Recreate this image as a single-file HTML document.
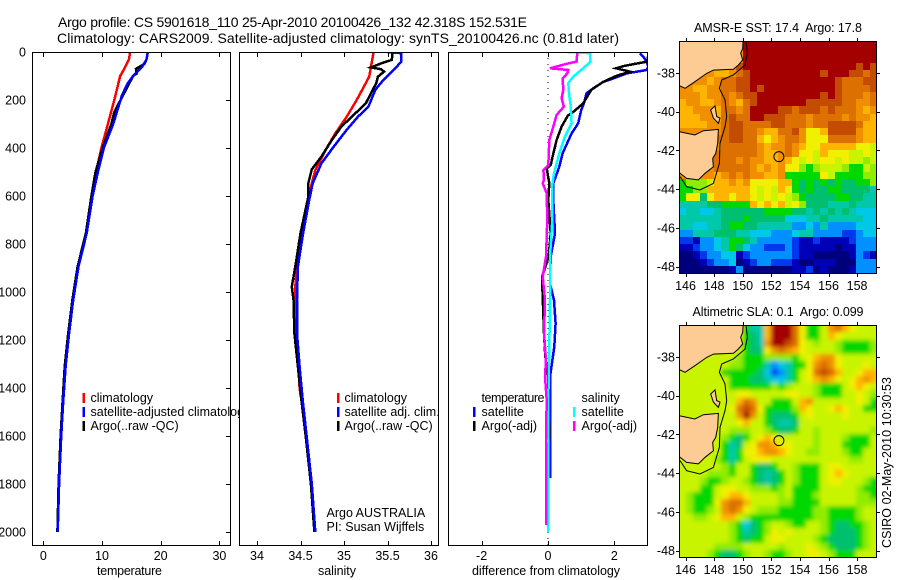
<!DOCTYPE html>
<html lang="en">
<head>
<meta charset="utf-8">
<title>Argo profile chart</title>
<style>
html,body{margin:0;padding:0;background:#fff;}
svg{display:block;}
text{font-family:"Liberation Sans",sans-serif;font-size:12.5px;fill:#000;}
</style>
</head>
<body>
<svg id="chart" xmlns="http://www.w3.org/2000/svg" width="900" height="580" viewBox="0 0 900 580"></svg>
<script>
/* ---------- profile data ---------- */
const depthTicks = [0,200,400,600,800,1000,1200,1400,1600,1800,2000];
const tempTicks = [0,10,20,30];
const salTicks = [34,34.5,35,35.5,36];
const salTickLabels = ['34','34.5','35','35.5','36'];
const diffTicks = [-2,0,2];

const tempClimDepth = [0,30,70,100,200,300,400,500,600,755,894,1033,1172,1311,1450,1600,1800,2000];
const tempClimValue = [14.8,14.6,13.8,13.1,12.1,11.0,9.9,9.0,8.4,7.4,6.0,5.1,4.4,3.8,3.4,3.05,2.7,2.45];
const tempSatDepth = [0,30,60,100,130,180,300,400,500,600,755,894,1033,1172,1311,1450,1600,1800,2000];
const tempSatValue = [17.8,17.6,16.9,15.3,14.4,13.4,11.9,10.3,9.3,8.4,7.4,6.0,5.1,4.4,3.8,3.4,3.05,2.7,2.45];
const tempArgoDepth = [0,30,50,70,90,100,250,300,400,500,600,755,894,1033,1172,1311,1450,1600,1800,2000];
const tempArgoValue = [17.8,17.6,17.2,15.8,15.9,15.3,12.1,11.6,10.1,8.9,8.2,7.25,5.85,4.95,4.25,3.65,3.3,2.95,2.6,2.4];

const salClimDepth = [0,103,200,270,339,408,492,547,617,755,894,978,1100,1400,1600,1800,2000];
const salClimValue = [35.34,35.29,35.146,35.03,34.90,34.79,34.67,34.63,34.59,34.51,34.46,34.44,34.44,34.49,34.57,34.63,34.67];
const salSatDepth = [0,5,40,75,117,158,228,270,325,395,464,547,617,755,894,1033,1172,1311,1450,1600,1800,2000];
const salSatValue = [35.5,35.66,35.66,35.57,35.45,35.36,35.28,35.16,35.03,34.88,34.74,34.64,34.60,34.53,34.47,34.46,34.46,34.49,34.525,34.57,34.63,34.67];
const salArgoDepth = [0,33,47,64,72,82,103,131,158,214,256,311,367,436,489,547,603,755,894,978,1033,1172,1311,1450,1600,1800,2000];
const salArgoValue = [35.56,35.55,35.43,35.31,35.43,35.46,35.39,35.37,35.33,35.25,35.13,34.97,34.86,34.74,34.63,34.59,34.59,34.50,34.44,34.40,34.42,34.43,34.47,34.51,34.56,34.62,34.66];

const diffTempSatDepth = [6,19,40,61,75,89,110,124,151,172,214,242,297,339,422,478,547,617,756,853,964,1034,1131,1228,1353,1775];
const diffTempSatValue = [2.77,2.87,2.97,3.02,2.97,2.37,1.97,1.67,1.37,1.16,1.08,1.0,0.91,0.71,0.44,0.34,0.16,0.16,0.21,0.08,0.06,0.18,0.23,0.19,0.06,0.06];
const diffTempArgoDepth = [5,40,50,58,68,82,100,124,158,214,250,265,311,367,436,471,485,547,617,756,853,936,1020,1172,1270,1353,1617];
const diffTempArgoValue = [3.02,3.0,2.6,2.3,2.05,2.47,2.05,1.67,1.3,1.06,0.76,0.6,0.41,0.26,0.14,0.08,-0.04,0.04,0.01,0.08,0.02,-0.18,-0.16,-0.12,-0.08,0.01,0.04];
const diffSalSatDepth = [0,5,40,68,103,130,179,221,297,353,422,506,561,700,853,1034,1228,1450,2003];
const diffSalSatValue = [0.59,1.27,1.28,1.06,0.76,0.61,0.64,0.68,0.71,0.51,0.34,0.18,0.12,0.13,0.06,0.06,0.04,0.01,0.01];
const diffSalArgoDepth = [5,40,50,68,75,89,110,158,193,228,262,311,367,471,492,533,547,589,700,853,936,1034,1172,1284,1353,1450,1617,1970];
const diffSalArgoValue = [0.88,0.86,0.54,0.06,0.61,0.58,0.44,0.46,0.41,0.48,0.26,0.16,0.04,0.01,-0.14,-0.12,-0.16,-0.04,-0.02,-0.06,-0.16,-0.09,-0.12,-0.06,-0.09,-0.04,-0.06,-0.05];
const zeroLineDepth = [0,2054];
const zeroLineValue = [0,0];

/* ---------- map data: colour-scale level per cell, 0 = coldest/lowest, 15 = warmest/highest ---------- */
const lonTicks = [146,148,150,152,154,156,158];
const latTicks = [-38,-40,-42,-44,-46,-48];
const sstLevels = [
[12,12,12,12,12,12,12,12,12,15,15,15,15,15,15,15,15,15,15,15,15,15,15,15,15,15,15,15],
[12,12,12,12,12,12,12,12,12,15,15,15,15,15,15,15,15,15,15,15,15,15,15,15,15,15,15,15],
[12,12,12,12,12,12,12,12,12,15,15,15,15,15,15,15,15,15,15,15,15,15,15,15,15,15,15,15],
[12,12,12,12,12,12,12,12,14,15,15,15,15,15,15,15,15,15,15,15,15,15,15,15,15,14,15,14],
[12,12,12,12,12,11,11,12,13,14,15,15,15,15,15,15,15,15,15,15,14,15,15,15,14,14,13,14],
[12,12,12,12,11,12,13,13,14,14,15,15,15,15,15,15,15,15,15,15,15,15,14,13,13,13,14,14],
[12,12,11,11,12,12,13,13,14,14,15,14,15,15,15,15,15,15,15,15,15,15,14,13,13,13,13,14],
[12,12,12,11,12,12,13,12,13,14,14,15,15,15,15,15,15,15,15,15,14,15,14,13,13,13,12,13],
[11,12,12,11,11,12,13,12,11,13,14,15,15,15,15,15,15,15,14,14,14,14,14,13,13,12,12,13],
[11,11,12,12,12,11,13,13,12,13,15,15,15,15,14,14,13,14,14,14,13,14,13,13,13,12,11,12],
[11,11,11,12,12,11,13,14,13,13,15,15,14,14,14,13,13,13,12,13,13,13,13,12,13,12,12,11],
[11,11,11,11,12,12,13,14,14,13,13,13,13,14,14,13,13,13,12,13,13,14,14,14,14,13,11,11],
[12,12,12,12,12,12,13,14,14,13,13,12,11,11,13,13,14,12,10,10,11,14,14,14,14,12,11,11],
[12,12,12,12,12,13,13,14,14,13,13,11,10,11,12,13,13,12,10,10,10,13,13,13,13,12,11,11],
[12,12,12,12,12,12,13,13,13,13,13,12,11,12,12,13,12,11,10,10,11,11,11,11,11,10,10,9],
[12,12,12,12,12,13,13,13,13,13,13,12,11,11,12,13,12,10,10,9,11,10,10,10,9,9,10,9],
[12,12,12,12,13,13,13,13,12,13,12,12,11,11,12,11,10,9,10,9,10,10,9,10,9,9,8,9],
[12,12,12,12,12,13,13,13,13,13,12,11,12,11,12,10,10,8,7,8,9,9,9,8,7,7,9,8],
[12,12,12,12,12,11,12,13,12,13,12,12,11,11,12,7,7,7,7,7,10,9,7,7,7,7,8,8],
[7,8,8,8,9,11,11,12,11,12,10,10,10,10,11,11,7,6,7,6,7,6,7,6,6,7,7,8],
[7,7,8,8,11,11,11,11,11,11,10,9,10,9,11,10,7,6,7,6,6,7,7,6,6,6,6,5],
[7,10,10,6,10,11,11,10,11,11,10,9,10,9,10,9,8,7,6,6,6,6,7,7,6,6,5,5],
[5,5,5,5,6,6,7,7,7,7,11,10,11,10,11,9,10,8,6,6,6,5,5,5,6,5,5,5],
[4,5,5,4,4,5,6,6,6,6,6,6,7,7,7,7,6,6,5,6,5,6,5,6,5,4,4,4],
[5,5,5,5,5,5,6,6,6,7,6,6,6,6,6,4,4,4,5,5,6,5,5,5,5,5,4,4],
[5,5,4,4,5,5,6,7,7,6,6,5,5,5,5,5,3,3,4,3,5,3,3,3,3,4,4,4],
[3,3,5,5,5,6,6,6,5,5,4,4,4,3,3,3,4,5,5,3,3,3,3,2,2,3,4,4],
[2,2,1,3,3,4,5,7,7,6,5,3,3,3,3,3,2,1,1,2,1,1,1,1,2,3,3,3],
[1,1,2,3,3,4,5,7,6,4,3,3,2,2,2,3,2,1,1,1,1,1,0,1,1,3,3,3],
[0,0,1,2,3,3,4,4,1,2,3,3,3,3,3,3,2,1,1,0,0,0,0,0,1,3,2,1],
[0,0,0,1,2,3,3,4,0,1,2,3,3,2,2,2,1,0,0,1,1,1,0,0,0,3,3,3],
[0,0,0,0,0,0,0,1,3,0,0,0,0,0,0,0,1,1,2,0,1,0,0,0,1,3,3,3]
];
const slaLevels = [
[9,9,9,9,9,9,9,9,9,7,5,5,11,15,15,15,13,10,7,7,9,12,13,11,10,9,9,9],
[9,9,9,9,9,9,9,9,9,7,6,5,11,15,15,15,13,10,7,7,9,11,10,9,9,9,9,9],
[9,9,9,9,9,9,9,9,9,7,6,5,12,15,15,14,13,10,9,8,9,9,8,7,7,7,7,8],
[9,9,9,9,9,9,9,9,9,7,6,6,10,12,13,12,11,10,9,9,9,9,8,7,7,7,7,8],
[9,9,9,9,9,9,9,9,8,7,7,7,8,8,8,8,7,9,10,11,12,12,10,9,9,9,9,9],
[9,9,9,9,9,9,9,8,8,7,7,7,5,3,4,5,7,7,10,12,13,12,10,9,9,9,10,9],
[9,9,9,9,9,9,7,7,7,7,7,6,4,2,3,5,7,9,10,13,14,13,11,9,9,10,11,11],
[9,9,9,9,9,9,9,7,7,7,6,6,5,4,4,5,7,9,10,11,12,11,10,9,10,11,12,11],
[9,9,9,9,9,9,9,7,7,7,7,7,7,8,7,8,9,9,9,8,7,7,7,9,10,11,10,9],
[9,9,9,9,9,9,9,9,10,10,9,9,9,9,9,10,10,9,9,8,7,7,7,9,9,10,9,8],
[9,9,9,9,9,9,9,9,11,13,12,9,9,7,7,7,9,11,12,9,9,9,9,9,9,10,9,7],
[9,9,9,9,9,9,9,10,13,14,13,10,7,7,7,7,8,11,10,9,9,10,11,10,9,9,7,7],
[9,9,9,9,9,9,9,9,12,15,12,9,7,6,6,6,7,9,10,9,9,9,9,10,9,9,9,9],
[9,9,9,9,9,9,9,9,10,11,9,9,7,6,5,5,6,9,9,9,9,9,9,9,9,9,9,9],
[9,9,9,9,9,9,9,8,8,8,9,9,8,7,6,6,7,9,9,8,9,9,9,9,9,9,9,8],
[9,9,9,9,9,9,8,7,6,7,9,10,11,10,9,9,9,9,9,8,9,9,9,8,7,7,7,9],
[9,9,9,9,9,9,7,5,6,9,10,12,12,11,10,10,9,9,9,8,9,9,9,7,7,7,7,9],
[9,9,9,9,9,9,7,5,7,10,10,11,12,12,11,10,9,9,8,8,9,9,9,8,7,7,9,9],
[9,9,9,9,9,8,7,5,7,9,10,10,10,9,9,9,9,9,9,9,9,9,9,9,8,8,9,9],
[9,9,9,9,9,9,8,7,9,9,7,6,6,7,9,9,8,7,7,7,9,10,10,9,9,9,9,9],
[9,9,9,9,8,8,8,7,9,9,7,6,5,6,7,9,8,7,7,7,9,10,11,10,9,9,9,9],
[9,9,9,8,7,7,8,9,9,8,7,6,5,6,7,9,8,7,7,7,9,10,10,9,9,9,8,7],
[9,9,9,7,7,9,10,10,9,9,8,8,8,7,8,9,7,7,7,7,9,9,9,9,9,8,7,7],
[9,8,7,7,7,9,10,11,11,10,9,9,9,9,8,9,7,7,7,8,9,9,9,9,9,8,8,7],
[9,8,7,7,7,10,12,13,13,11,9,9,9,9,8,8,7,7,7,7,9,9,9,9,9,8,8,8],
[9,8,7,7,8,9,12,13,12,10,9,8,8,8,7,7,7,7,7,8,8,7,7,7,7,8,9,9],
[9,9,8,8,9,10,11,11,9,8,7,7,7,7,7,7,7,7,7,8,8,7,7,7,7,8,9,9],
[9,9,9,9,9,9,9,8,7,4,6,7,8,9,9,8,7,7,9,9,8,7,6,6,7,7,8,9],
[9,9,9,9,9,9,9,8,7,5,6,7,8,10,9,10,9,9,9,9,8,7,6,6,6,7,8,9],
[9,9,9,9,9,9,9,8,7,6,7,7,9,10,10,9,9,9,9,8,7,6,6,6,6,7,8,9],
[9,9,9,9,9,8,8,8,8,9,9,9,9,9,8,9,9,9,10,9,8,7,6,6,6,7,8,9],
[9,9,9,9,8,7,6,6,7,8,9,9,8,7,7,8,9,9,10,10,9,8,7,7,7,9,9,9]
];
const scaleColors = ['#00007c','#0000b8','#0038f0','#0090ff','#00c8e8','#00c8a8','#00c070','#00d800','#90ec00','#c8f400','#f0f000','#ffb400','#f09000','#dc7000','#c44c00','#a40000'];
const landNorthLon = [150.04,150.0,149.86,150.0,149.69,149.35,147.95,147.48,146.66,145.97,145.62,145.15,145.15];
const landNorthLat = [-36.12,-36.73,-36.98,-37.33,-37.59,-37.81,-37.85,-38.02,-38.45,-38.79,-38.67,-38.67,-36.12];
const landTasLon = [145.15,145.57,146.66,147.25,148.3,148.25,148.11,147.9,147.95,147.37,146.9,146.08,145.62,145.15];
const landTasLat = [-41.03,-41.03,-41.2,-40.98,-40.91,-41.63,-42.15,-42.41,-42.84,-43.18,-43.52,-43.44,-43.18,-43.0];
const islandLon = [147.76,148.06,148.18,148.41,148.3,147.95];
const islandLat = [-39.91,-39.70,-40.25,-40.33,-40.6,-40.33];
const contourLon = [150.23,150.33,150.16,149.35,148.53,148.37,148.76,148.88,148.76,148.41,148.37,147.95,147.01,146.08,145.62];
const contourLat = [-36.35,-36.98,-37.59,-38.1,-38.36,-38.79,-39.39,-40.25,-40.77,-41.63,-42.66,-43.7,-44.04,-43.87,-43.35];
const floatLon = [152.531];
const floatLat = [-42.318];

/* ---------- helpers ---------- */
const svg = document.getElementById('chart');
const NS = 'http://www.w3.org/2000/svg';
function make(tag, attrs, parent, txt){
  const e = document.createElementNS(NS, tag);
  for (const k in attrs) e.setAttribute(k, attrs[k]);
  if (txt !== undefined) e.textContent = txt;
  (parent || svg).appendChild(e);
  return e;
}
function label(parent, x, y, s, anchor, name, extra){
  const t = make('text', Object.assign({x:x, y:y, 'text-anchor':anchor||'start'}, extra||{}), parent, s);
  
  
  return t;
}
const depthY = d => 52 + 0.24 * d;
const tempX = v => 43.3 + 5.87 * v;
const salX = v => 257 + 87 * (v - 34);
const diffX = v => 548 + 33.2 * v;
function linePath(xs, ys, fx, fy){
  return xs.map((v, i) => (i ? 'L' : 'M') + fx(v).toFixed(1) + ' ' + fy(ys[i]).toFixed(1)).join('');
}

/* ---------- title ---------- */
label(svg, 58, 27, 'Argo profile: CS 5901618_110 25-Apr-2010 20100426_132 42.318S 152.531E', 'start', 'chart-title-line-1', {style:'font-size:14px', textLength:469, lengthAdjust:'spacing'});
label(svg, 57, 43, 'Climatology: CARS2009. Satellite-adjusted climatology: synTS_20100426.nc (0.81d later)', 'start', 'chart-title-line-2', {style:'font-size:14px', textLength:562, lengthAdjust:'spacing'});

/* ---------- profile panels ---------- */
function profilePanel(o){
  const g = make('g', {});
  
  
  const bg = make('rect', {x:o.left, y:52, width:o.right-o.left, height:493, fill:'#fff'}, g);
  
  
  const clipId = o.name + '-clip';
  const cp = make('clipPath', {id:clipId}, g);
  make('rect', {x:o.left, y:52, width:o.right-o.left, height:493}, cp);
  const sg = make('g', {'clip-path':'url(#' + clipId + ')'}, g);
  o.series.forEach(s => {
    const p = make('path', {d:linePath(s.v, s.d, o.fx, depthY), fill:'none', stroke:s.color, 'stroke-width':s.width||2.5, 'stroke-linejoin':'miter', 'shape-rendering':'crispEdges'}, sg);
    if (s.dash) p.setAttribute('stroke-dasharray', s.dash);
    
    
  });
  const frame = make('rect', {x:o.left+0.5, y:52.5, width:o.right-o.left-1, height:493, fill:'none', stroke:'#000', 'stroke-width':1, 'shape-rendering':'crispEdges'}, g);
  
  
  o.ticks.forEach((t, i) => {
    const x = Math.round(o.fx(t)) + 0.5;
    const tk = make('path', {d:'M'+x+' 53V57M'+x+' 545V541', stroke:'#000', fill:'none', 'shape-rendering':'crispEdges'}, g);
    
    
    label(g, o.fx(t), 560, o.labels[i], 'middle', o.name + '-x-tick-label');
  });
  label(g, (o.left + o.right) / 2 + (o.xlabelShift||0), 575, o.xlabel, 'middle', o.name + '-x-axis-title', {textLength:o.xlabelLen, lengthAdjust:'spacing'});
  return g;
}
function legendEntry(g, markX, textX, y, color, txt, name, len){
  if (color) {
    const m = make('rect', {x:markX, y:y-5, width:2.5, height:10, fill:color, 'shape-rendering':'crispEdges'}, g);
    
    
  }
  label(g, textX, y + 4, txt, 'start', name, len ? {textLength:len, lengthAdjust:'spacing'} : {});
}

const p1 = profilePanel({
  name:'temperature', left:32, right:231, fx:tempX, ticks:tempTicks, labels:tempTicks.map(String), xlabel:'temperature', xlabelShift:-2, xlabelLen:65,
  series:[
    {v:tempClimValue, d:tempClimDepth, color:'#f00', name:'temperature-climatology-line'},
    {v:tempArgoValue, d:tempArgoDepth, color:'#000', name:'temperature-argo-line'},
    {v:tempSatValue, d:tempSatDepth, color:'#00f', name:'temperature-satellite-line'}
  ]
});
depthTicks.forEach(t => {
  const y = Math.round(depthY(t)) + 0.5;
  const tk = make('path', {d:'M230 '+y+'H226', stroke:'#000', 'shape-rendering':'crispEdges'}, p1);
  
  
  label(p1, 26, depthY(t) + 4.5, String(t), 'end', 'depth-tick-label');
});
legendEntry(p1, 82.5, 90.5, 398, '#f00', 'climatology', 'legend-climatology');
legendEntry(p1, 82.5, 90.5, 412, '#00f', 'satellite-adjusted climatology', 'legend-satellite-adjusted');
legendEntry(p1, 82.5, 90.5, 426, '#000', 'Argo(..raw -QC)', 'legend-argo');

const p2 = profilePanel({
  name:'salinity', left:239, right:439, fx:salX, ticks:salTicks, labels:salTickLabels, xlabel:'salinity', xlabelShift:-2, xlabelLen:38,
  series:[
    {v:salClimValue, d:salClimDepth, color:'#f00', name:'salinity-climatology-line'},
    {v:salArgoValue, d:salArgoDepth, color:'#000', name:'salinity-argo-line', width:2.5},
    {v:salSatValue, d:salSatDepth, color:'#00f', name:'salinity-satellite-line', width:2.5}
  ]
});
legendEntry(p2, 337, 344.5, 398, '#f00', 'climatology', 'salinity-legend-climatology');
legendEntry(p2, 337, 344.5, 412, '#00f', 'satellite adj. clim.', 'salinity-legend-satellite');
legendEntry(p2, 337, 344.5, 426, '#000', 'Argo(..raw -QC)', 'salinity-legend-argo');
label(p2, 326.5, 517, 'Argo AUSTRALIA', 'start', 'float-program-label');
label(p2, 326.5, 531, 'PI: Susan Wijffels', 'start', 'principal-investigator-label');

const p3 = profilePanel({
  name:'difference', left:448, right:648, fx:diffX, ticks:diffTicks, labels:['-2','0','2'], xlabel:'difference from climatology', xlabelShift:-2, xlabelLen:148,
  series:[
    {v:zeroLineValue, d:zeroLineDepth, color:'#000', name:'zero-reference-line', width:1, dash:'1 5'},
    {v:diffTempSatValue, d:diffTempSatDepth, color:'#00f', name:'difference-temperature-satellite-line'},
    {v:diffTempArgoValue, d:diffTempArgoDepth, color:'#000', name:'difference-temperature-argo-line'},
    {v:diffSalSatValue, d:diffSalSatDepth, color:'#0ff', name:'difference-salinity-satellite-line'},
    {v:diffSalArgoValue, d:diffSalArgoDepth, color:'#f0f', name:'difference-salinity-argo-line'}
  ]
});
legendEntry(p3, 473, 481.5, 398, null, 'temperature', 'difference-legend-temperature-heading', 63);
legendEntry(p3, 473, 481.5, 412, '#00f', 'satellite', 'difference-legend-temperature-satellite');
legendEntry(p3, 473, 481.5, 426, '#000', 'Argo(-adj)', 'difference-legend-temperature-argo');
legendEntry(p3, 573, 581.5, 398, null, 'salinity', 'difference-legend-salinity-heading');
legendEntry(p3, 573, 581.5, 412, '#0ff', 'satellite', 'difference-legend-salinity-satellite');
legendEntry(p3, 573, 581.5, 426, '#f0f', 'Argo(-adj)', 'difference-legend-salinity-argo');

/* ---------- maps ---------- */
function mapPanel(o){
  const top = o.top, left = 679, width = 198, height = 232;
  const lonX = lon => 685.5 + 14.3 * (lon - 146);
  const latY = lat => top + 32 + 19.37 * (-38 - lat);
  const g = make('g', {});
  
  
  const cp = make('clipPath', {id:o.name + '-clip'}, g);
  make('rect', {x:left, y:top, width:width, height:height}, cp);
  const body = make('g', {'clip-path':'url(#' + o.name + '-clip)'}, g);
  const cells = make('g', {}, body);
  if (o.blur) {
    const f = make('filter', {id:o.name + '-smooth', filterUnits:'userSpaceOnUse', x:left-30, y:top-30, width:width+60, height:height+60}, g);
    make('feGaussianBlur', {stdDeviation:o.blur}, f);
    cells.setAttribute('filter', 'url(#' + o.name + '-smooth)');
  }
  const rows = o.levels.length;
  o.levels.forEach((row, r) => {
    const y0 = Math.round(top + r * height / rows), y1 = Math.round(top + (r + 1) * height / rows);
    row.forEach((lvl, c) => {
      const x0 = Math.round(left + c * width / row.length), x1 = Math.round(left + (c + 1) * width / row.length);
      const ext = o.blur ? {x:(c === 0 ? x0 - 20 : x0), y:(r === 0 ? y0 - 20 : y0), w:(c === 0 ? 20 : 0) + (c === row.length - 1 ? 20 : 0), h:(r === 0 ? 20 : 0) + (r === rows - 1 ? 20 : 0)} : {x:x0, y:y0, w:0, h:0};
      const cell = make('rect', {x:ext.x, y:ext.y, width:x1-x0+ext.w, height:y1-y0+ext.h, fill:scaleColors[lvl], 'shape-rendering':'crispEdges'}, cells);
      
      
    });
  });
  [[landNorthLon, landNorthLat, 'mainland'], [landTasLon, landTasLat, 'tasmania'], [islandLon, islandLat, 'island']].forEach(a => {
    const land = make('path', {d:linePath(a[0], a[1], lonX, latY) + 'Z', fill:'#fdcb94', stroke:'#000', 'stroke-width':1}, body);
    
    
  });
  const contour = make('path', {d:linePath(contourLon, contourLat, lonX, latY), fill:'none', stroke:'#000', 'stroke-width':1}, body);
  
  
  const marker = make('circle', {cx:lonX(floatLon[0]), cy:latY(floatLat[0]), r:5, fill:'none', stroke:'#000', 'stroke-width':1}, body);
  
  
  const frame = make('rect', {x:left+0.5, y:top+0.5, width:width-1, height:height, fill:'none', stroke:'#000', 'shape-rendering':'crispEdges'}, g);
  
  
  lonTicks.forEach(t => {
    const x = Math.round(lonX(t)) + 0.5;
    const tk = make('path', {d:'M'+x+' '+(top-3)+'V'+top+'M'+x+' '+(top+height+1)+'V'+(top+height+4), stroke:'#000', 'shape-rendering':'crispEdges'}, g);
    
    
    label(g, lonX(t), top + 249, String(t), 'middle', o.name + '-longitude-label');
  });
  latTicks.forEach(t => {
    const y = Math.round(latY(t)) + 0.5;
    const tk = make('path', {d:'M676 '+y+'H679M877 '+y+'H880', stroke:'#000', 'shape-rendering':'crispEdges'}, g);
    
    
    label(g, 675, latY(t) + 4.5, String(t), 'end', o.name + '-latitude-label');
  });
  label(g, 778, o.titleY, o.title, 'middle', o.name + '-map-title', {textLength:o.titleLen, lengthAdjust:'spacing'});
}
mapPanel({name:'sst', top:41, levels:sstLevels, title:'AMSR-E SST: 17.4\u00a0 Argo: 17.8', titleY:32, titleLen:168});
mapPanel({name:'sla', top:325, levels:slaLevels, blur:2, title:'Altimetric SLA: 0.1\u00a0 Argo: 0.099', titleY:316, titleLen:171});

label(svg, 0, 0, 'CSIRO 02-May-2010 10:30:53', 'start', 'production-timestamp', {transform:'translate(891 548) rotate(-90)', textLength:171, lengthAdjust:'spacing'});
</script>
</body>
</html>
